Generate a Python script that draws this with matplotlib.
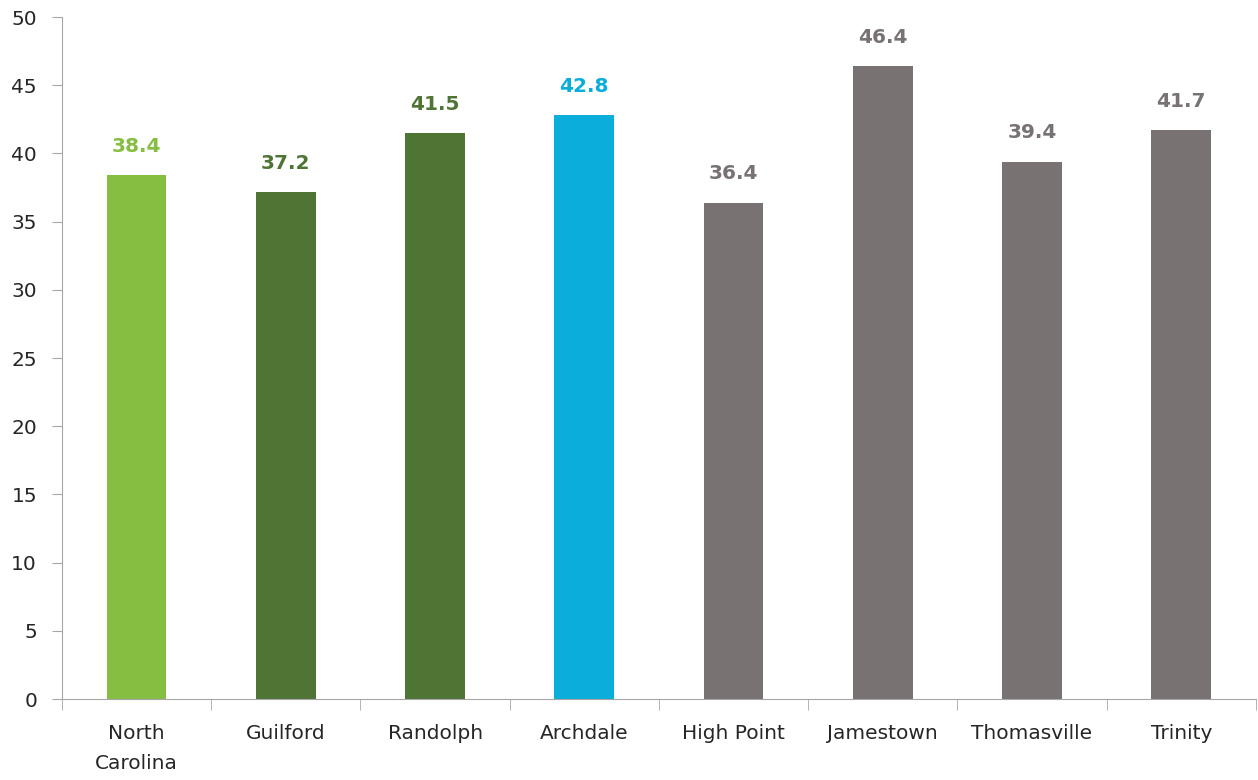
import matplotlib.pyplot as plt
import numpy as np

places = ['North\nCarolina', 'Guilford', 'Randolph', 'Archdale', 'High Point',
          'Jamestown', 'Thomasville', 'Trinity']
median_age = [38.4, 37.2, 41.5, 42.8, 36.4, 46.4, 39.4, 41.7]
colors = ['#86BE41', '#4F7535', '#4F7535', '#0BADDB', '#787273', '#787273', '#787273', '#787273']

plt.rcParams['font.family'] = ['DejaVu Sans']

fig = plt.figure(figsize=(12.58, 7.8), dpi=100)
ax = fig.add_axes([0.0493, 0.1038, 0.9490, 0.8744])

x = np.arange(len(places))
ax.bar(x, median_age, width=0.4, color=colors)

for xi, v, c in zip(x, median_age, colors):
    ax.text(xi, v + 1.4, f'{v:.1f}', ha='center', va='bottom', color=c,
            fontsize=14.5, fontweight='bold')

ax.set_xlim(-0.5, len(places) - 0.5)
ax.set_ylim(0, 50)
ax.set_yticks(np.arange(0, 51, 5))
ax.tick_params(axis='y', labelsize=14.5, color='#A6A6A6', length=7, pad=11,
               labelcolor='#262626')

ax.set_xticks(x)
ax.set_xticklabels(places, fontsize=14.5, color='#262626', linespacing=1.75)
ax.set_xticks(np.arange(-0.5, len(places), 1), minor=True)
ax.tick_params(axis='x', which='major', length=0, pad=18)
ax.tick_params(axis='x', which='minor', length=8, color='#A6A6A6')

for s in ['top', 'right']:
    ax.spines[s].set_visible(False)
for s in ['left', 'bottom']:
    ax.spines[s].set_color('#A6A6A6')

fig.savefig('out.png', dpi=100)
